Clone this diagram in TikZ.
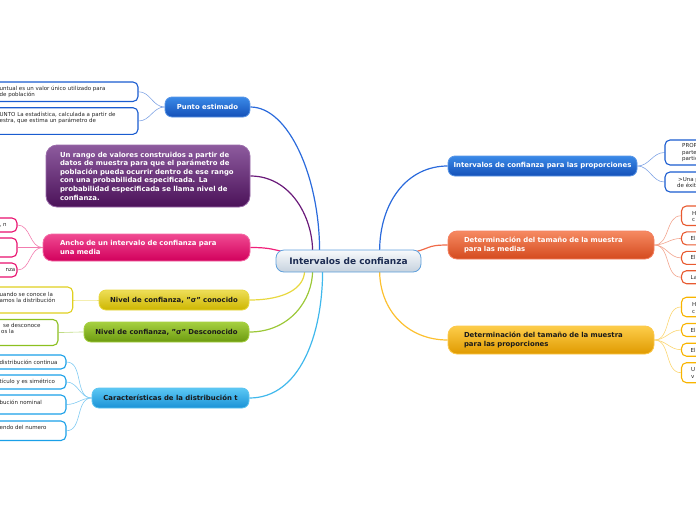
\documentclass[tikz,border=0pt]{standalone}
\usepackage{fontspec}
\setmainfont{DejaVu Sans}
\usetikzlibrary{calc,backgrounds}
\definecolor{cBlueT}{HTML}{3A8AE8}\definecolor{cBlueB}{HTML}{1450B8}\definecolor{cBlueD}{HTML}{5A96E6}
\definecolor{cBlueL}{HTML}{2A6ADC}\definecolor{cBlueK}{HTML}{1A5CD0}
\definecolor{cPurT}{HTML}{8D5B9E}\definecolor{cPurB}{HTML}{4B1259}\definecolor{cPurD}{HTML}{9A6AAA}\definecolor{cPurL}{HTML}{6A1A7A}
\definecolor{cPinkT}{HTML}{F04A92}\definecolor{cPinkB}{HTML}{D2005C}\definecolor{cPinkD}{HTML}{F36AA5}\definecolor{cPinkL}{HTML}{F0207A}\definecolor{cPinkK}{HTML}{E8106E}
\definecolor{cYelT}{HTML}{EEDE58}\definecolor{cYelB}{HTML}{CDB600}\definecolor{cYelD}{HTML}{E8D840}\definecolor{cYelL}{HTML}{E8D840}\definecolor{cYelK}{HTML}{E0D020}
\definecolor{cGrnT}{HTML}{A6D040}\definecolor{cGrnB}{HTML}{6C9A10}\definecolor{cGrnD}{HTML}{A6D040}\definecolor{cGrnL}{HTML}{9CC838}\definecolor{cGrnK}{HTML}{8CC020}
\definecolor{cLbT}{HTML}{5CC8F4}\definecolor{cLbB}{HTML}{1A92D6}\definecolor{cLbD}{HTML}{5CC4F0}\definecolor{cLbL}{HTML}{40B8EC}\definecolor{cLbK}{HTML}{1AA0E8}
\definecolor{cOrT}{HTML}{F68A62}\definecolor{cOrB}{HTML}{D44A1E}\definecolor{cOrD}{HTML}{F48060}\definecolor{cOrL}{HTML}{F06A48}\definecolor{cOrK}{HTML}{E85A30}
\definecolor{cGoT}{HTML}{FDCD4A}\definecolor{cGoB}{HTML}{E09A00}\definecolor{cGoD}{HTML}{FCC84A}\definecolor{cGoL}{HTML}{FCC030}\definecolor{cGoK}{HTML}{F8B400}
\definecolor{cCenT}{HTML}{F8FAFC}\definecolor{cCenB}{HTML}{C6D2DE}\definecolor{cCenD}{HTML}{5FA0DC}\definecolor{cNavy}{HTML}{1C2C52}
\definecolor{cDark}{HTML}{1A1A1A}
\begin{document}
\begin{tikzpicture}[x=1pt,y=-1pt,
  mainnode/.style={rounded corners=7pt, inner sep=0pt, line width=0.8pt, font=\fontsize{6.9}{8.3}\selectfont\bfseries},
  shade3/.style n args={3}{top color=#1, bottom color=#2, draw=#3},
  kid/.style={draw=#1, fill=white, rounded corners=5pt, line width=1.1pt, inner sep=0pt},
  ktext/.style={font=\fontsize{5.5}{6.3}\selectfont, inner sep=0pt, align=left, anchor=west, text=black!85},
  mainline/.style={draw=#1, line width=1.2pt},
  kidline/.style={draw=#1!55!white, line width=0.6pt},
]
\useasboundingbox (0,0) rectangle (696,520);

% central
\node[mainnode, font=\fontsize{9}{10}\selectfont\bfseries, shade3={cCenT}{cCenB}{cCenD}, text=cNavy, minimum width=145pt, minimum height=22pt, rounded corners=8pt] (c) at (348.5,261) {Intervalos de confianza};

% left main nodes
\node[mainnode, shade3={cBlueT}{cBlueB}{cBlueD}, text=white, minimum width=85pt, minimum height=20pt] (pe) at (207.5,107) {Punto estimado};
\node[mainnode, shade3={cPurT}{cPurB}{cPurD}, text=white, font=\fontsize{6.9}{8.6}\selectfont\bfseries, minimum height=62pt, text width=176pt, inner xsep=14pt, align=left, rounded corners=11pt] (rg) at (148,176) {Un rango de valores construidos a partir de\\datos de muestra para que el parámetro de\\población pueda ocurrir dentro de ese rango\\con una probabilidad especificada. La\\probabilidad especificada se llama nivel de\\confianza.};
\node[mainnode, shade3={cPinkT}{cPinkB}{cPinkD}, text=white, minimum height=27pt, text width=173pt, inner xsep=17pt, align=left, rounded corners=9pt] (an) at (146.5,247.5) {Ancho de un intervalo de confianza para\\una media};
\node[mainnode, shade3={cYelT}{cYelB}{cYelD}, text=cDark, minimum width=150pt, minimum height=20pt] (yc) at (174,300) {Nivel de confianza, "σ" conocido};
\node[mainnode, shade3={cGrnT}{cGrnB}{cGrnD}, text=cDark, minimum width=165pt, minimum height=20pt] (gd) at (166.5,332) {Nivel de confianza, "σ" Desconocido};
\node[mainnode, shade3={cLbT}{cLbB}{cLbD}, text=cDark, minimum width=157pt, minimum height=20pt] (ct) at (170.5,398) {Características de la distribución t};

% right main nodes
\node[mainnode, shade3={cBlueT}{cBlueB}{cBlueD}, text=white, minimum width=189pt, minimum height=20pt] (ip) at (542.5,166) {Intervalos de confianza para las proporciones};
\node[mainnode, shade3={cOrT}{cOrB}{cOrD}, text=white, minimum height=28pt, text width=174pt, inner xsep=16pt, align=left, rounded corners=9pt] (dm) at (551,245) {Determinación del tamaño de la muestra\\para las medias};
\node[mainnode, shade3={cGoT}{cGoB}{cGoD}, text=cDark, minimum height=28pt, text width=174pt, inner xsep=16pt, align=left, rounded corners=9pt] (dp) at (551,340) {Determinación del tamaño de la muestra\\para las proporciones};

% left children
\node[kid=cBlueK, minimum width=158pt, minimum height=19.5pt] (pe1) at (59,91.75) {};
\node[ktext] (pe1t) at (-0.5,92.2) {untual es un valor único utilizado para\\de población};
\node[kid=cBlueK, minimum width=158pt, minimum height=26.6pt] (pe2) at (59,121) {};
\node[ktext] (pe2t) at (-0.5,118) {UNTO La estadística, calculada a partir de\\estra, que estima un parámetro de};

\node[kid=cPinkK, minimum width=37pt, minimum height=14pt] (an1) at (-1.5,225) {};
\node[ktext] (an1t) at (-0.5,225) {, n};
\node[kid=cPinkK, minimum width=37pt, minimum height=19pt] (an2) at (-1.5,247.5) {};
\node[kid=cPinkK, minimum width=37pt, minimum height=14pt] (an3) at (-1.5,270) {};
\node[ktext, anchor=east] (an3t) at (15.5,270) {nza};

\node[kid=cYelK, minimum width=92.7pt, minimum height=26pt] (yc1) at (26.35,300) {};
\node[ktext] (yc1t) at (-0.5,297.5) {uando se conoce la\\amos la distribución};

\node[kid=cGrnK, minimum width=78pt, minimum height=26pt] (gd1) at (19,332.5) {};
\node[ktext] (gd1t) at (1,328.3) {\hspace*{2pt}se desconoce\\os la};

\node[kid=cLbK, minimum width=86pt, minimum height=14pt] (ct1) at (23,362) {};
\node[ktext] (ct1t) at (-0.5,362) {distribución continua};
\node[kid=cLbK, minimum width=86pt, minimum height=14pt] (ct2) at (23,382) {};
\node[ktext] (ct2t) at (-0.5,382) {tículo y es simétrico};
\node[kid=cLbK, minimum width=86pt, minimum height=19pt] (ct3) at (23,404.5) {};
\node[ktext] (ct3t) at (-0.5,402.3) {bución nominal};
\node[kid=cLbK, minimum width=86pt, minimum height=19.5pt] (ct4) at (23,430.75) {};
\node[ktext] (ct4t) at (-0.5,427.7) {endo del numero};

% right children
\node[kid=cBlueK, minimum width=55pt, minimum height=25pt] (ip1) at (692.5,152.5) {};
\node[ktext] (ip1t) at (682,152.8) {PROP\\parte\\partic};
\node[kid=cBlueK, minimum width=55pt, minimum height=20pt] (ip2) at (692.5,182) {};
\node[ktext] (ip2t) at (677,182.6) {\hspace*{1pt}>Una p\\de éxit};

\node[kid=cOrK, minimum width=38.5pt, minimum height=19.5pt] (dm1) at (700.75,215.75) {};
\node[ktext] (dm1t) at (692,216.3) {H\\c};
\node[kid=cOrK, minimum width=38.5pt, minimum height=13pt] (dm2) at (700.75,238.4) {};
\node[ktext] (dm2t) at (690.5,238.4) {El};
\node[kid=cOrK, minimum width=38.5pt, minimum height=13pt] (dm3) at (700.75,257.9) {};
\node[ktext] (dm3t) at (690.5,257.9) {El};
\node[kid=cOrK, minimum width=38.5pt, minimum height=13pt] (dm4) at (700.75,277.2) {};
\node[ktext] (dm4t) at (690.5,277.4) {La};

\node[kid=cGoK, minimum width=38.5pt, minimum height=19.5pt] (dp1) at (700.75,307) {};
\node[ktext] (dp1t) at (692,307.9) {H\\c};
\node[kid=cGoK, minimum width=38.5pt, minimum height=13pt] (dp2) at (700.75,330) {};
\node[ktext] (dp2t) at (690.5,330.5) {El};
\node[kid=cGoK, minimum width=38.5pt, minimum height=13pt] (dp3) at (700.75,349.7) {};
\node[ktext] (dp3t) at (690.5,350.4) {El};
\node[kid=cGoK, minimum width=38.5pt, minimum height=20pt] (dp4) at (700.75,372.7) {};
\node[ktext] (dp4t) at (691,373) {U\\v};

\begin{scope}[on background layer]
% main connectors
\draw[mainline=cBlueL] (pe.east) .. controls +(38,0) and +(0,-75) .. ($(c.north west)+(44,2)$);
\draw[mainline=cPurL] (rg.east) .. controls +(40,0) and +(0,-35) .. ($(c.north west)+(37,2)$);
\draw[mainline=cPinkL] (an.east) .. controls +(20,0) and +(-15,-3) .. ($(c.north west)+(12,3)$);
\draw[mainline=cYelL] (yc.east) .. controls +(35,0) and +(0,18) .. ($(c.south west)+(29,-2)$);
\draw[mainline=cGrnL] (gd.east) .. controls +(40,0) and +(0,30) .. ($(c.south west)+(37,-2)$);
\draw[mainline=cLbL] (ct.east) .. controls +(50,0) and +(0,65) .. ($(c.south west)+(47,-2)$);
\draw[mainline=cBlueL] (ip.west) .. controls +(-40,0) and +(0,-50) .. ($(c.north west)+(104,2)$);
\draw[mainline=cOrL] (dm.west) .. controls +(-22,0) and +(20,-4) .. ($(c.north east)+(-10,3)$);
\draw[mainline=cGoL] (dp.west) .. controls +(-40,0) and +(0,40) .. ($(c.south west)+(104,-2)$);
% child connectors
\draw[kidline=cBlueK] (pe.west) to[out=180,in=0] (pe1.east);
\draw[kidline=cBlueK] (pe.west) to[out=180,in=0] (pe2.east);
\draw[kidline=cPinkK] (an.west) to[out=180,in=0] (an1.east);
\draw[kidline=cPinkK] (an.west) to[out=180,in=0] (an2.east);
\draw[kidline=cPinkK] (an.west) to[out=180,in=0] (an3.east);
\draw[kidline=cYelK] (yc.west) to[out=180,in=0] (yc1.east);
\draw[kidline=cGrnK] (gd.west) to[out=180,in=0] (gd1.east);
\draw[kidline=cLbK] (ct.west) to[out=180,in=0] (ct1.east);
\draw[kidline=cLbK] (ct.west) to[out=180,in=0] (ct2.east);
\draw[kidline=cLbK] (ct.west) to[out=180,in=0] (ct3.east);
\draw[kidline=cLbK] (ct.west) to[out=180,in=0] (ct4.east);
\draw[kidline=cBlueK] (ip.east) to[out=0,in=180] (ip1.west);
\draw[kidline=cBlueK] (ip.east) to[out=0,in=180] (ip2.west);
\draw[kidline=cOrK] (dm.east) to[out=0,in=180] (dm1.west);
\draw[kidline=cOrK] (dm.east) to[out=0,in=180] (dm2.west);
\draw[kidline=cOrK] (dm.east) to[out=0,in=180] (dm3.west);
\draw[kidline=cOrK] (dm.east) to[out=0,in=180] (dm4.west);
\draw[kidline=cGoK] (dp.east) to[out=0,in=180] (dp1.west);
\draw[kidline=cGoK] (dp.east) to[out=0,in=180] (dp2.west);
\draw[kidline=cGoK] (dp.east) to[out=0,in=180] (dp3.west);
\draw[kidline=cGoK] (dp.east) to[out=0,in=180] (dp4.west);
\end{scope}
\end{tikzpicture}
\end{document}
